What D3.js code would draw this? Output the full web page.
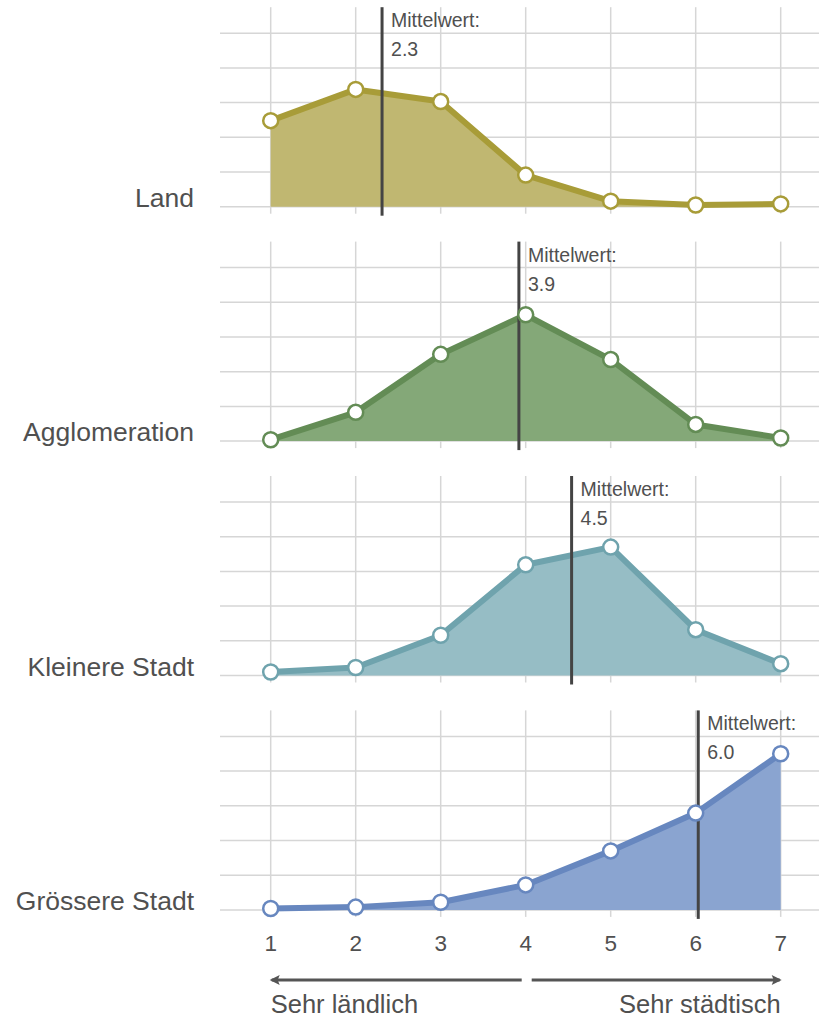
<!DOCTYPE html>
<html>
<head>
<meta charset="utf-8">
<script src="https://cdn.jsdelivr.net/npm/d3@7"></script>
<style>
  html, body { margin: 0; padding: 0; background: #fff; }
  svg { display: block; }
  text { font-family: "Helvetica Neue", Helvetica, "Liberation Sans", Arial, sans-serif; fill: #505050; }
</style>
</head>
<body>
<svg id="chart" width="819" height="1020"></svg>
<script>
// ---- Data ----
const categories = ["Land", "Agglomeration", "Kleinere Stadt", "Grössere Stadt"];
const xTicks = [1, 2, 3, 4, 5, 6, 7];
const yGrid = [0, 10, 20, 30, 40, 50];
const land      = [24.8, 33.8, 30.3, 9.1, 1.6, 0.5, 0.8];
const agglo     = [0.4, 8.3, 25.0, 36.4, 23.5, 4.8, 0.9];
const kleinere  = [1.0, 2.3, 11.6, 31.9, 37.0, 13.2, 3.4];
const groessere = [0.4, 0.8, 2.2, 7.2, 17.0, 27.9, 45.0];
const means = [2.31, 3.92, 4.54, 6.03];
const meanLabel = "Mittelwert:";
const leftLabel = "Sehr ländlich";
const rightLabel = "Sehr städtisch";

const seriesValues = [land, agglo, kleinere, groessere];
const lineColors = ["#a89c38", "#638c55", "#6fa3ad", "#6787bf"];
const fillColors = ["#c0b771", "#84a878", "#96bdc5", "#8aa4d0"];

// ---- Layout ----
const svg = d3.select("#chart");
const x = d3.scaleLinear().domain([1, 7]).range([270.7, 780.7]);
const panelBase = d3.scaleLinear().domain([0, 1]).range([206.7, 441.1]); // baseline of each panel
const panelH = 173.5; // 0..50 %
const topExtra = 26;  // vertical grid above top gridline

categories.forEach((cat, i) => {
  const b = panelBase(i);
  const y = d3.scaleLinear().domain([0, 50]).range([b, b - panelH]);
  const top = b - panelH - topExtra;
  const g = svg.append("g");

  // horizontal gridlines
  g.selectAll("line.h").data(yGrid).join("line")
    .attr("x1", 220).attr("x2", 819)
    .attr("y1", d => y(d)).attr("y2", d => y(d))
    .attr("stroke", "#d6d6d6").attr("stroke-width", 1.5);
  // vertical gridlines
  g.selectAll("line.v").data(xTicks).join("line")
    .attr("x1", d => x(d)).attr("x2", d => x(d))
    .attr("y1", top).attr("y2", b + 7)
    .attr("stroke", "#d6d6d6").attr("stroke-width", 1.5);

  const vals = seriesValues[i].map((v, k) => ({ x: xTicks[k], v }));
  const area = d3.area().x(d => x(d.x)).y0(b).y1(d => y(d.v));
  const line = d3.line().x(d => x(d.x)).y(d => y(d.v));

  g.append("path").datum(vals).attr("d", area).attr("fill", fillColors[i]);
  g.append("path").datum(vals).attr("d", line)
    .attr("fill", "none").attr("stroke", lineColors[i])
    .attr("stroke-width", 6).attr("stroke-linejoin", "round");

  // mean line
  g.append("line")
    .attr("x1", x(means[i])).attr("x2", x(means[i]))
    .attr("y1", top).attr("y2", b + 9)
    .attr("stroke", "#444").attr("stroke-width", 3);

  g.selectAll("circle").data(vals).join("circle")
    .attr("cx", d => x(d.x)).attr("cy", d => y(d.v))
    .attr("r", 7.5).attr("fill", "#fff")
    .attr("stroke", lineColors[i]).attr("stroke-width", 2.5);

  g.append("text").attr("x", x(means[i]) + 9).attr("y", top + 20)
    .attr("font-size", 19.5).text(meanLabel);
  g.append("text").attr("x", x(means[i]) + 9).attr("y", top + 49)
    .attr("font-size", 19.5).text(means[i].toFixed(1));

  // category label
  g.append("text").attr("x", 194).attr("y", b)
    .attr("text-anchor", "end").attr("font-size", 26.5).text(cat);
});

// x tick labels
svg.selectAll("text.tick").data(xTicks).join("text")
  .attr("class", "tick")
  .attr("x", d => x(d)).attr("y", 951)
  .attr("text-anchor", "middle").attr("font-size", 22.5)
  .text(d => d);

// arrows
const ay = 980;
const arrowG = svg.append("g").attr("stroke", "#555").attr("fill", "none")
  .attr("stroke-width", 3);
arrowG.append("line").attr("x1", x(1) + 1).attr("x2", x(4) - 4).attr("y1", ay).attr("y2", ay);
arrowG.append("line").attr("x1", x(4) + 6).attr("x2", x(7) - 1).attr("y1", ay).attr("y2", ay);
svg.append("path")
  .attr("d", `M${x(1) - 1},${ay} L${x(1) + 9},${ay - 5} L${x(1) + 7},${ay} L${x(1) + 9},${ay + 5} Z`)
  .attr("fill", "#555");
svg.append("path")
  .attr("d", `M${x(7) + 1},${ay} L${x(7) - 9},${ay - 5} L${x(7) - 7},${ay} L${x(7) - 9},${ay + 5} Z`)
  .attr("fill", "#555");

svg.append("text").attr("x", x(1)).attr("y", 1013).attr("font-size", 25.5).text(leftLabel);
svg.append("text").attr("x", x(7)).attr("y", 1013).attr("text-anchor", "end")
  .attr("font-size", 25.5).text(rightLabel);
</script>
</body>
</html>
